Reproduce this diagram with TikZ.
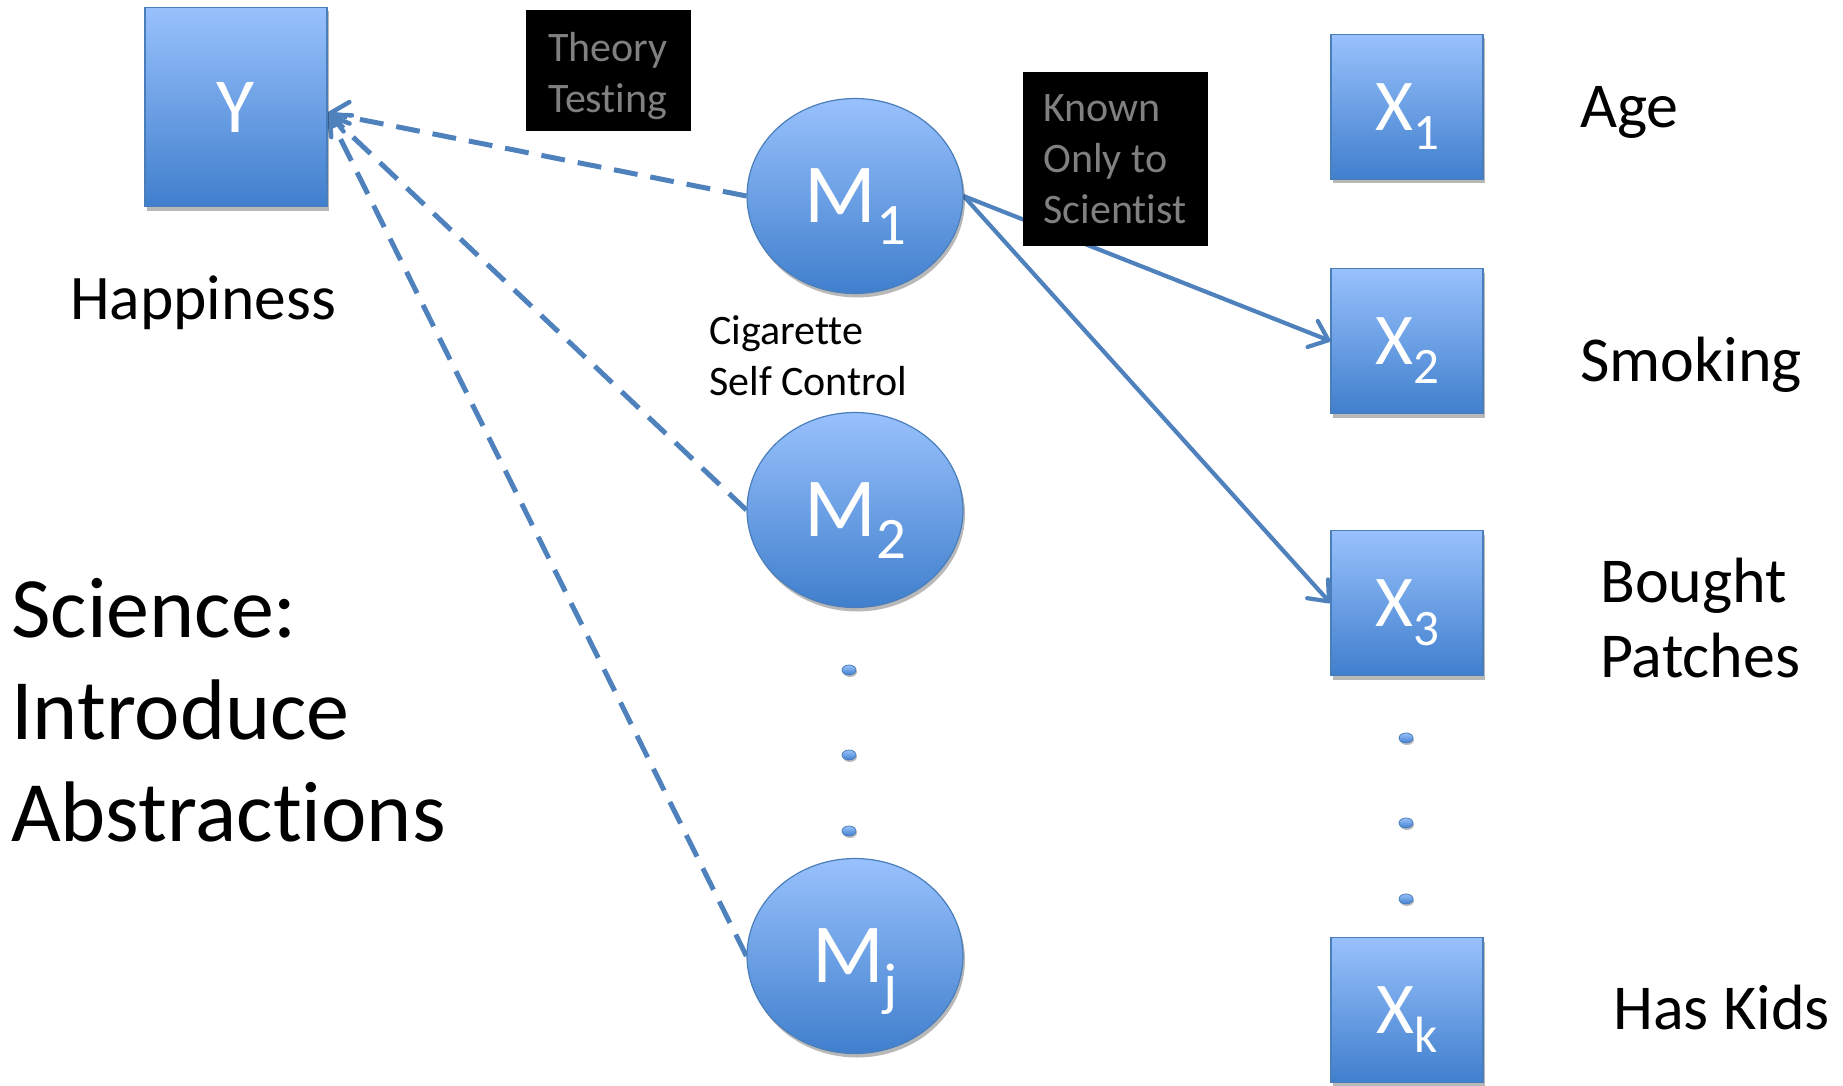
\documentclass[tikz,border=0pt]{standalone}
\usepackage{fontspec}
\setmainfont{Carlito}[RawFeature={-liga;-clig}]
\usetikzlibrary{shapes.geometric,arrows.meta,shadows,backgrounds}

\definecolor{nodetop}{RGB}{152,193,252}
\definecolor{nodebot}{RGB}{64,127,205}
\definecolor{nodeline}{RGB}{74,126,187}
\definecolor{linkblue}{RGB}{79,129,189}
\definecolor{notegray}{RGB}{128,128,128}

% lowered, reduced index used in the variable names
\newcommand\lowsub[1]{\raisebox{-0.26em}{\scalebox{0.7}{#1}}}

\tikzset{
  varbase/.style={draw=nodeline, line width=1.2pt, top color=nodetop,
    bottom color=nodebot, text=white, inner sep=0pt, text depth=0pt},
  varshadow/.style={drop shadow={shadow xshift=2pt, shadow yshift=-4pt,
    opacity=0.28, fill=black}},
  boxvar/.style={varbase, varshadow, rectangle, minimum width=152pt,
    minimum height=145pt, font=\fontsize{73}{80}\selectfont},
  latent/.style={varbase, varshadow, ellipse, minimum width=216pt,
    minimum height=195pt, font=\fontsize{84}{90}\selectfont},
  dotmark/.style={varbase, ellipse, minimum width=14pt, minimum height=10pt,
    line width=0.8pt, drop shadow={shadow xshift=1pt, shadow yshift=-2pt,
    opacity=0.25, fill=black}},
  note/.style={fill=black, inner sep=0pt},
  notetext/.style={text=notegray, align=left, inner sep=0pt,
    font=\fontsize{42}{51}\selectfont},
  caption/.style={inner sep=0pt, anchor=west, align=left, text=black},
  testlink/.style={draw=linkblue, line width=5pt, dash pattern=on 24pt off 13pt,
    -{Straight Barb[length=17pt, width=30pt, line width=4.5pt, round]}},
  knownlink/.style={draw=linkblue, line width=4.2pt,
    -{Straight Barb[length=17pt, width=28pt, line width=4.2pt, round]}},
}

\begin{document}
\begin{tikzpicture}[x=1pt, y=-1pt]
  \useasboundingbox (0,0) rectangle (1843,1086);

  % outcome
  \node[boxvar, minimum width=182pt, minimum height=199pt,
        font=\fontsize{78}{86}\selectfont] (Y) at (236,107) {Y};
  \node[caption, anchor=center, font=\fontsize{63.5}{75}\selectfont] (happy) at (203,303) {Happiness};

  % mediating abstractions
  \node[latent] (M1) at (855,196) {M\lowsub{1}};
  \node[latent] (M2) at (855,510) {M\lowsub{2}};
  \node[latent] (Mj) at (855,956) {M\lowsub{j}};
  \node[dotmark] (md1) at (849,670) {};
  \node[dotmark] (md2) at (849,755) {};
  \node[dotmark] (md3) at (849,831) {};
  \node[caption, font=\fontsize{42}{51}\selectfont] (cig) at (709,356)
    {Cigarette\\Self Control};

  % observed variables
  \node[boxvar] (X1) at (1407,107) {X\lowsub{1}};
  \node[boxvar] (X2) at (1407,341) {X\lowsub{2}};
  \node[boxvar] (X3) at (1407,603) {X\lowsub{3}};
  \node[boxvar] (Xk) at (1407,1010) {X\lowsub{k}};
  \node[dotmark] (xd1) at (1406,738) {};
  \node[dotmark] (xd2) at (1406,823) {};
  \node[dotmark] (xd3) at (1406,899) {};

  \node[caption, font=\fontsize{64}{75}\selectfont] (age) at (1580,112) {Age};
  \node[caption, font=\fontsize{64}{75}\selectfont] (smoke) at (1580,365) {Smoking};
  \node[caption, font=\fontsize{64}{75}\selectfont] (patch) at (1600,618) {Bought\\Patches};
  \node[caption, font=\fontsize{64}{75}\selectfont] (kids) at (1613,1008) {Has Kids};

  \node[caption, font=\fontsize{86}{102}\selectfont] (sci) at (11,710)
    {Science:\\Introduce\\Abstractions};

  % connectors, kept beneath the nodes
  \begin{scope}[on background layer]
    \draw[testlink] (M1.west) -- ([yshift=-6pt]Y.east);
    \draw[testlink] (M2.west) -- ([yshift=-6pt]Y.east);
    \draw[testlink] (Mj.west) -- ([yshift=-6pt]Y.east);
    \draw[knownlink] (M1.east) -- (X2.west);
    \draw[knownlink] (M1.east) -- (X3.west);
  \end{scope}

  % black note boxes
  \node[note, minimum width=165pt, minimum height=121pt] (theory) at (608,71) {};
  \node[notetext, font=\fontsize{42}{51}\selectfont] (theorytext) at (608,76)
    {Theory\\Testing};
  \node[note, minimum width=185pt, minimum height=174pt] (known) at (1115,159) {};
  \node[notetext] (knowntext) at (known.center) {Known\\Only to\\Scientist};
\end{tikzpicture}
\end{document}
